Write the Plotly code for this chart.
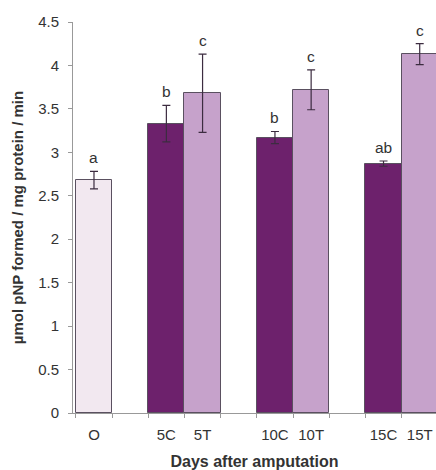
import plotly.graph_objects as go

categories = ["O", "5C", "5T", "10C", "10T", "15C", "15T"]
positions = [0, 2, 3, 5, 6, 8, 9]
values = [2.68, 3.33, 3.68, 3.17, 3.72, 2.87, 4.13]
errors = [0.10, 0.21, 0.45, 0.07, 0.23, 0.03, 0.12]
letters = ["a", "b", "c", "b", "c", "ab", "c"]
colors = ["#f2e8f0", "#6d216c", "#c6a2cb", "#6d216c", "#c6a2cb", "#6d216c", "#c6a2cb"]

FONT = "Liberation Sans, Arial, sans-serif"

fig = go.Figure()
fig.add_trace(go.Bar(
    x=positions, y=values, width=1.0,
    marker=dict(color=colors, line=dict(color="#5a5060", width=1)),
    error_y=dict(type="data", array=errors, visible=True, color="#3c2c40", thickness=1.2, width=4),
    showlegend=False, cliponaxis=False,
))

for p, v, e, t in zip(positions, values, errors, letters):
    fig.add_annotation(x=p, y=v + e, text=t, showarrow=False, yanchor="bottom", yshift=3,
                       font=dict(size=15.5, color="#333333", family=FONT))

fig.update_layout(
    template="none",
    width=436, height=470,
    margin=dict(l=73, r=0, t=22, b=57, pad=0),
    paper_bgcolor="white", plot_bgcolor="white",
    font=dict(family=FONT, color="#333333", size=15),
    bargap=0,
    xaxis=dict(
        automargin=False,
        range=[-0.58, 9.45], tickvals=positions, ticktext=categories,
        showline=True, linecolor="#999999", linewidth=1, ticks="",
        tickfont=dict(size=15, color="#333333"), showgrid=False, zeroline=False,
        ticklabelstandoff=8,
        minor=dict(tick0=-0.5, dtick=1, ticks="outside", ticklen=4, tickcolor="#999999", showgrid=False),
        title=dict(text="<b>Days after amputation</b>", font=dict(size=16, color="#333333", family=FONT), standoff=14),
    ),
    yaxis=dict(
        automargin=False,
        range=[0, 4.5], tickvals=[0, 0.5, 1, 1.5, 2, 2.5, 3, 3.5, 4, 4.5],
        ticktext=["0", "0.5", "1", "1.5", "2", "2.5", "3", "3.5", "4", "4.5"],
        showline=True, linecolor="#999999", linewidth=1, ticks="outside", ticklen=4,
        tickcolor="#999999", showgrid=False, zeroline=False,
        tickfont=dict(size=15, color="#333333"),
        ticklabelstandoff=6,
        title=dict(text="<b>µmol pNP formed / mg protein / min</b>", font=dict(size=15, color="#333333", family=FONT), standoff=10),
    ),
)

fig.write_html("out.html", config={"displayModeBar": False},
               post_script="document.body.style.margin='0px';document.body.style.overflow='hidden';")
